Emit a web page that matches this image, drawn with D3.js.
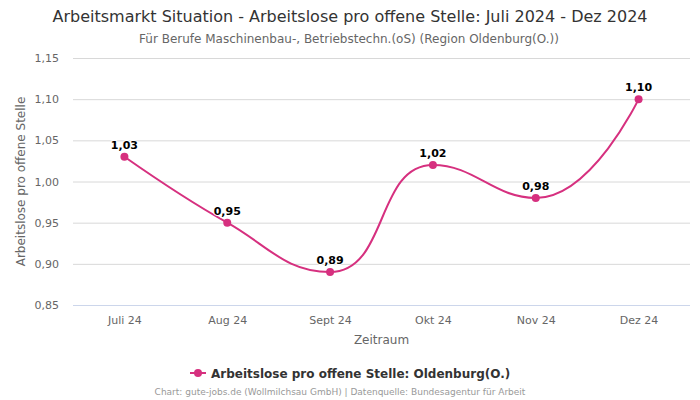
<html><head>
<script src="https://d3js.org/d3.v7.min.js"></script>
<style>
  body { margin: 0; background: #fff; }
  text { font-family: "DejaVu Sans", Verdana, sans-serif; }
</style>
</head>
<body>
<svg id="chart" width="700" height="400"></svg>
<script>
let months = ["Juli 24", "Aug 24", "Sept 24", "Okt 24", "Nov 24", "Dez 24"];
let values = [1.03, 0.95, 0.89, 1.02, 0.98, 1.10];
let yTicks = [0.85, 0.90, 0.95, 1.00, 1.05, 1.10, 1.15];

let svg = d3.select("svg#chart");
let margin = {"top": 58, "right": 10, "bottom": 95, "left": 73};
let chartWidth = 700 - margin.left - margin.right;
let chartHeight = 400 - margin.top - margin.bottom;
let lineColor = "#d6307f";
let fmt = v => d3.format(".2f")(v).replace(".", ",");

let xScale = d3.scalePoint().domain(months).range([0, chartWidth]).padding(0.5);
let yScale = d3.scaleLinear().domain([0.85, 1.15]).range([chartHeight, 0]);

// titles
svg.append("text").attr("x", 350).attr("y", 22).attr("text-anchor", "middle")
    .style("font-size", "16px").style("fill", "#333")
    .text("Arbeitsmarkt Situation - Arbeitslose pro offene Stelle: Juli 2024 - Dez 2024");
svg.append("text").attr("x", 349).attr("y", 43).attr("text-anchor", "middle")
    .style("font-size", "12px").style("fill", "#666")
    .text("Für Berufe Maschinenbau-, Betriebstechn.(oS) (Region Oldenburg(O.))");

let g = svg.append("g").attr("transform", "translate(" + margin.left + "," + margin.top + ")");

// grid + y axis
let yAxis = d3.axisLeft(yScale).tickValues(yTicks).tickSize(-chartWidth).tickPadding(14).tickFormat(fmt);
g.append("g").call(yAxis)
    .call(a => a.select(".domain").remove())
    .call(a => a.selectAll(".tick line").attr("stroke", "#d8d8d8"))
    .call(a => a.selectAll(".tick text").style("font-size", "11px").style("fill", "#666")
        .attr("font-family", null));
g.append("line").attr("x1", 0).attr("x2", chartWidth).attr("y1", chartHeight + 0.5).attr("y2", chartHeight + 0.5)
    .attr("stroke", "#ccd6eb");

// x axis
let xAxis = d3.axisBottom(xScale).tickSize(0).tickPadding(11);
g.append("g").attr("transform", "translate(0," + chartHeight + ")").call(xAxis)
    .call(a => a.select(".domain").remove())
    .call(a => a.selectAll(".tick text").style("font-size", "11px").style("fill", "#666")
        .attr("font-family", null));

svg.append("text").attr("x", margin.left + chartWidth / 2).attr("y", 344).attr("text-anchor", "middle")
    .style("font-size", "12px").style("fill", "#666").text("Zeitraum");
svg.append("text").attr("transform", "translate(25," + (margin.top + chartHeight / 2) + ") rotate(-90)")
    .attr("text-anchor", "middle").style("font-size", "12px").style("fill", "#666")
    .text("Arbeitslose pro offene Stelle");

// spline like highcharts
let pts = values.map((v, i) => ({x: xScale(months[i]), y: yScale(v)}));
let smoothing = 1.5, denom = smoothing + 1;
pts.forEach((p, i) => {
    let last = pts[i - 1], next = pts[i + 1];
    if (!last || !next) return;
    let lcx = (smoothing * p.x + last.x) / denom, lcy = (smoothing * p.y + last.y) / denom;
    let rcx = (smoothing * p.x + next.x) / denom, rcy = (smoothing * p.y + next.y) / denom;
    let dl = Math.hypot(lcx - p.x, lcy - p.y), dr = Math.hypot(rcx - p.x, rcy - p.y);
    let la = Math.atan2(lcy - p.y, lcx - p.x), ra = Math.atan2(rcy - p.y, rcx - p.x);
    let ja = Math.PI / 2 + (la + ra) / 2;
    if (Math.abs(la - ja) > Math.PI / 2) ja -= Math.PI;
    lcx = p.x + Math.cos(ja) * dl; lcy = p.y + Math.sin(ja) * dl;
    rcx = p.x + Math.cos(Math.PI + ja) * dr; rcy = p.y + Math.sin(Math.PI + ja) * dr;
    if (lcy > Math.max(last.y, p.y) || lcy < Math.min(last.y, p.y)) {
        lcy = Math.max(Math.min(lcy, Math.max(last.y, p.y)), Math.min(last.y, p.y));
        rcy = 2 * p.y - lcy;
    }
    if (rcy > Math.max(next.y, p.y) || rcy < Math.min(next.y, p.y)) {
        rcy = Math.max(Math.min(rcy, Math.max(next.y, p.y)), Math.min(next.y, p.y));
        lcy = 2 * p.y - rcy;
    }
    p.lcx = lcx; p.lcy = lcy; p.rcx = rcx; p.rcy = rcy;
});
let path = d3.path();
pts.forEach((p, i) => {
    if (i == 0) { path.moveTo(p.x, p.y); return; }
    let last = pts[i - 1];
    path.bezierCurveTo(last.rcx ?? last.x, last.rcy ?? last.y, p.lcx ?? p.x, p.lcy ?? p.y, p.x, p.y);
});
g.append("path").attr("d", path.toString()).attr("fill", "none")
    .attr("stroke", lineColor).attr("stroke-width", 2);

g.selectAll("circle.pt").data(values).enter().append("circle")
    .attr("cx", (d, i) => xScale(months[i])).attr("cy", d => yScale(d))
    .attr("r", 4).attr("fill", lineColor);

g.selectAll("text.lbl").data(values).enter().append("text")
    .attr("x", (d, i) => xScale(months[i])).attr("y", d => yScale(d) - 8)
    .attr("text-anchor", "middle")
    .style("font-size", "11px").style("font-weight", "bold").style("fill", "#000")
    .style("stroke", "#fff").style("stroke-width", 2).style("paint-order", "stroke")
    .text(d => fmt(d));

// legend
let legend = svg.append("g").attr("transform", "translate(190,373)");
legend.append("line").attr("x1", 0).attr("x2", 16).attr("y1", 0).attr("y2", 0)
    .attr("stroke", lineColor).attr("stroke-width", 2);
legend.append("circle").attr("cx", 8).attr("cy", 0).attr("r", 4).attr("fill", lineColor);
legend.append("text").attr("x", 21).attr("y", 4.5)
    .style("font-size", "12px").style("font-weight", "bold").style("fill", "#333")
    .text("Arbeitslose pro offene Stelle: Oldenburg(O.)");

svg.append("text").attr("x", 340).attr("y", 395).attr("text-anchor", "middle")
    .style("font-size", "9px").style("fill", "#999")
    .text("Chart: gute-jobs.de (Wollmilchsau GmbH) | Datenquelle: Bundesagentur für Arbeit");
</script>
</body>
</html>
